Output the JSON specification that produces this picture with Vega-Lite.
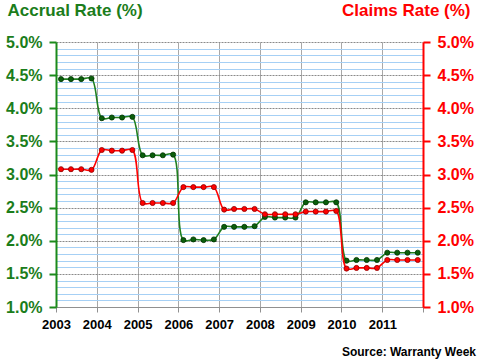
{
  "$schema": "https://vega.github.io/schema/vega-lite/v6.json",
  "width": 367,
  "height": 265,
  "autosize": "none",
  "padding": {"left": 56, "top": 42, "right": 57, "bottom": 57},
  "background": "white",
  "config": {
    "view": {"stroke": null},
    "font": "Liberation Sans"
  },
  "title": {
    "text": "Source: Warranty Week",
    "orient": "bottom",
    "anchor": "end",
    "frame": "group",
    "font": "Liberation Sans",
    "fontSize": 12,
    "fontWeight": "bold",
    "color": "#000000",
    "baseline": "top",
    "dx": 53,
    "offset": 16
  },
  "data": {
    "values": [
      {"date": "2003-02-15", "accrual": 4.44, "claims": 3.08},
      {"date": "2003-05-15", "accrual": 4.44, "claims": 3.08},
      {"date": "2003-08-15", "accrual": 4.44, "claims": 3.08},
      {"date": "2003-11-15", "accrual": 4.45, "claims": 3.07},
      {"date": "2004-02-15", "accrual": 3.85, "claims": 3.37},
      {"date": "2004-05-15", "accrual": 3.86, "claims": 3.36},
      {"date": "2004-08-15", "accrual": 3.86, "claims": 3.36},
      {"date": "2004-11-15", "accrual": 3.87, "claims": 3.37},
      {"date": "2005-02-15", "accrual": 3.29, "claims": 2.57},
      {"date": "2005-05-15", "accrual": 3.29, "claims": 2.57},
      {"date": "2005-08-15", "accrual": 3.29, "claims": 2.57},
      {"date": "2005-11-15", "accrual": 3.30, "claims": 2.57},
      {"date": "2006-02-15", "accrual": 2.01, "claims": 2.81},
      {"date": "2006-05-15", "accrual": 2.02, "claims": 2.81},
      {"date": "2006-08-15", "accrual": 2.01, "claims": 2.81},
      {"date": "2006-11-15", "accrual": 2.02, "claims": 2.81},
      {"date": "2007-02-15", "accrual": 2.21, "claims": 2.47},
      {"date": "2007-05-15", "accrual": 2.21, "claims": 2.48},
      {"date": "2007-08-15", "accrual": 2.21, "claims": 2.48},
      {"date": "2007-11-15", "accrual": 2.22, "claims": 2.48},
      {"date": "2008-02-15", "accrual": 2.36, "claims": 2.40},
      {"date": "2008-05-15", "accrual": 2.35, "claims": 2.40},
      {"date": "2008-08-15", "accrual": 2.35, "claims": 2.40},
      {"date": "2008-11-15", "accrual": 2.35, "claims": 2.40},
      {"date": "2009-02-15", "accrual": 2.58, "claims": 2.44},
      {"date": "2009-05-15", "accrual": 2.58, "claims": 2.44},
      {"date": "2009-08-15", "accrual": 2.58, "claims": 2.44},
      {"date": "2009-11-15", "accrual": 2.58, "claims": 2.45},
      {"date": "2010-02-15", "accrual": 1.70, "claims": 1.58},
      {"date": "2010-05-15", "accrual": 1.71, "claims": 1.59},
      {"date": "2010-08-15", "accrual": 1.71, "claims": 1.59},
      {"date": "2010-11-15", "accrual": 1.71, "claims": 1.59},
      {"date": "2011-02-15", "accrual": 1.82, "claims": 1.71},
      {"date": "2011-05-15", "accrual": 1.82, "claims": 1.71},
      {"date": "2011-08-15", "accrual": 1.82, "claims": 1.71},
      {"date": "2011-11-15", "accrual": 1.82, "claims": 1.71}
    ]
  },
  "encoding": {
    "x": {
      "field": "date",
      "type": "temporal",
      "scale": {
        "type": "utc",
        "domain": [{"year": 2003, "month": 1, "date": 1, "utc": true}, {"year": 2012, "month": 1, "date": 1, "utc": true}]
      },
      "axis": {
        "title": null,
        "values": [
          {"year": 2003, "month": 1, "date": 1, "utc": true},
          {"year": 2004, "month": 1, "date": 1, "utc": true},
          {"year": 2005, "month": 1, "date": 1, "utc": true},
          {"year": 2006, "month": 1, "date": 1, "utc": true},
          {"year": 2007, "month": 1, "date": 1, "utc": true},
          {"year": 2008, "month": 1, "date": 1, "utc": true},
          {"year": 2009, "month": 1, "date": 1, "utc": true},
          {"year": 2010, "month": 1, "date": 1, "utc": true},
          {"year": 2011, "month": 1, "date": 1, "utc": true},
          {"year": 2012, "month": 1, "date": 1, "utc": true}
        ],
        "format": "%Y",
        "labelExpr": "datum.label == '2012' ? '' : datum.label",
        "labelFont": "Liberation Sans",
        "labelFontSize": 13,
        "labelFontWeight": "bold",
        "labelColor": "#000000",
        "labelAlign": "center",
        "labelDx": 3,
        "labelPadding": 6,
        "labelOverlap": false,
        "tickSize": 5,
        "tickColor": "#909090",
        "domainColor": "#909090",
        "grid": true,
        "gridColor": "#a8a8a8",
        "gridWidth": 1
      }
    }
  },
  "layer": [
    {
      "mark": {"type": "line", "interpolate": "catmull-rom", "color": "#1f7f1f", "strokeWidth": 1.6},
      "encoding": {
        "y": {
          "field": "accrual",
          "type": "quantitative",
          "scale": {"domain": [1, 5], "nice": false, "zero": false},
          "axis": {
            "orient": "left",
            "title": "Accrual Rate (%)",
            "titleAngle": 0,
            "titleAlign": "left",
            "titleBaseline": "alphabetic",
            "titleX": -49,
            "titleY": -27,
            "titleFont": "Liberation Sans",
            "titleFontSize": 17,
            "titleFontWeight": "bold",
            "titleColor": "#1b7d1b",
            "values": [1.0, 1.1, 1.2, 1.3, 1.4, 1.5, 1.6, 1.7, 1.8, 1.9, 2.0, 2.1, 2.2, 2.3, 2.4, 2.5, 2.6, 2.7, 2.8, 2.9, 3.0, 3.1, 3.2, 3.3, 3.4, 3.5, 3.6, 3.7, 3.8, 3.9, 4.0, 4.1, 4.2, 4.3, 4.4, 4.5, 4.6, 4.7, 4.8, 4.9, 5.0],
            "labelExpr": "abs(datum.value * 2 - round(datum.value * 2)) < 0.01 ? format(datum.value, '.1f') + '%' : ''",
            "labelOverlap": false,
            "labelFont": "Liberation Sans",
            "labelFontSize": 16,
            "labelFontWeight": "bold",
            "labelColor": "#1b7d1b",
            "labelPadding": 7,
            "tickSize": 7,
            "tickWidth": 2,
            "tickColor": "#1b8a1b",
            "tickOpacity": {"condition": {"test": "abs(datum.value * 2 - round(datum.value * 2)) < 0.01", "value": 1}, "value": 0},
            "domainColor": "#1b8a1b",
            "domainWidth": 2,
            "grid": true,
            "gridColor": {"condition": {"test": "abs(datum.value * 2 - round(datum.value * 2)) < 0.01", "value": "#8a8a8a"}, "value": "#a6d0f5"},
            "gridDash": {"condition": {"test": "abs(datum.value * 2 - round(datum.value * 2)) < 0.01", "value": [2, 1]}, "value": []},
            "gridWidth": 1
          }
        }
      }
    },
    {
      "mark": {"type": "point", "shape": "circle", "filled": true, "size": 26, "color": "#0b5e0b", "stroke": "#003300", "strokeWidth": 0.8, "opacity": 1},
      "encoding": {
        "y": {"field": "accrual", "type": "quantitative", "scale": {"domain": [1, 5], "nice": false, "zero": false}, "axis": null}
      }
    },
    {
      "mark": {"type": "line", "interpolate": "catmull-rom", "color": "#ff0000", "strokeWidth": 1.6},
      "encoding": {
        "y": {
          "field": "claims",
          "type": "quantitative",
          "scale": {"domain": [1, 5], "nice": false, "zero": false},
          "axis": {
            "orient": "right",
            "title": "Claims Rate (%)",
            "titleAngle": 0,
            "titleAlign": "right",
            "titleBaseline": "alphabetic",
            "titleX": 47,
            "titleY": -27,
            "titleFont": "Liberation Sans",
            "titleFontSize": 17,
            "titleFontWeight": "bold",
            "titleColor": "#ff0000",
            "values": [1.0, 1.1, 1.2, 1.3, 1.4, 1.5, 1.6, 1.7, 1.8, 1.9, 2.0, 2.1, 2.2, 2.3, 2.4, 2.5, 2.6, 2.7, 2.8, 2.9, 3.0, 3.1, 3.2, 3.3, 3.4, 3.5, 3.6, 3.7, 3.8, 3.9, 4.0, 4.1, 4.2, 4.3, 4.4, 4.5, 4.6, 4.7, 4.8, 4.9, 5.0],
            "labelExpr": "abs(datum.value * 2 - round(datum.value * 2)) < 0.01 ? format(datum.value, '.1f') + '%' : ''",
            "labelOverlap": false,
            "labelFont": "Liberation Sans",
            "labelFontSize": 16,
            "labelFontWeight": "bold",
            "labelColor": "#ff0000",
            "labelPadding": 7,
            "tickSize": 7,
            "tickWidth": 2,
            "tickColor": "#ff0000",
            "tickOpacity": {"condition": {"test": "abs(datum.value * 2 - round(datum.value * 2)) < 0.01", "value": 1}, "value": 0},
            "domainColor": "#ff0000",
            "domainWidth": 2,
            "grid": false
          }
        }
      }
    },
    {
      "mark": {"type": "point", "shape": "circle", "filled": true, "size": 26, "color": "#ff0000", "stroke": "#8b0000", "strokeWidth": 0.8, "opacity": 1},
      "encoding": {
        "y": {"field": "claims", "type": "quantitative", "scale": {"domain": [1, 5], "nice": false, "zero": false}, "axis": null}
      }
    }
  ],
  "resolve": {"scale": {"y": "shared"}, "axis": {"y": "independent"}}
}
